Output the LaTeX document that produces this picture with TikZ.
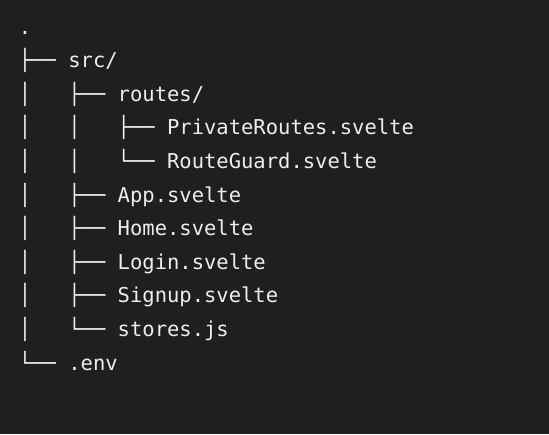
\documentclass[tikz,border=0pt]{standalone}
\usepackage{fontspec}
\newfontfamily\treefont{DejaVu Sans Mono}
\definecolor{bgc}{HTML}{1F1F1F}
\definecolor{txc}{HTML}{EEEEEE}
\tikzset{
  treeline/.style={anchor=base west, inner sep=0pt, outer sep=0pt, text=txc,
    font=\treefont\fontsize{20.5pt}{24pt}\selectfont}
}
\begin{document}
\begin{tikzpicture}[x=1pt,y=-1pt]
\fill[bgc] (0,0) rectangle (549,434);
\useasboundingbox (0,0) rectangle (549,434);
\node[treeline] (l0)  at (19,34)    {.};
\node[treeline] (l1)  at (19,67.6)  {├── src/};
\node[treeline] (l2)  at (19,101.2) {│\ \ \ ├── routes/};
\node[treeline] (l3)  at (19,134.8) {│\ \ \ │\ \ \ ├── PrivateRoutes.svelte};
\node[treeline] (l4)  at (19,168.4) {│\ \ \ │\ \ \ └── RouteGuard.svelte};
\node[treeline] (l5)  at (19,202)   {│\ \ \ ├── App.svelte};
\node[treeline] (l6)  at (19,235.6) {│\ \ \ ├── Home.svelte};
\node[treeline] (l7)  at (19,269.2) {│\ \ \ ├── Login.svelte};
\node[treeline] (l8)  at (19,302.8) {│\ \ \ ├── Signup.svelte};
\node[treeline] (l9)  at (19,336.4) {│\ \ \ └── stores.js};
\node[treeline] (l10) at (19,370)   {└── .env};
\end{tikzpicture}
\end{document}
